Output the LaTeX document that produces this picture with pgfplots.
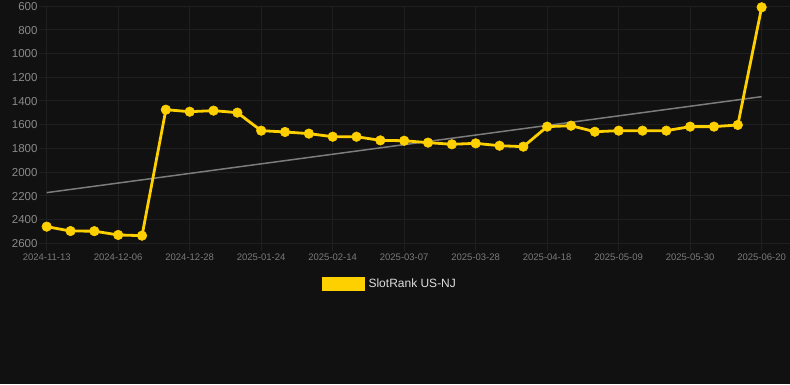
\documentclass[border=0pt]{standalone}
\usepackage{pgfplots}
\pgfplotsset{compat=1.18}
\usepackage{fontspec}
\setmainfont{Liberation Sans}
\definecolor{bg}{HTML}{111111}
\definecolor{gridc}{HTML}{1F1F1F}
\definecolor{gold}{HTML}{FFD000}
\definecolor{trend}{HTML}{7C7C7C}
\definecolor{ytc}{HTML}{8A8A8A}
\definecolor{xtc}{HTML}{7A7A7A}
\definecolor{legc}{HTML}{DDDDDD}
\begin{document}
\begin{tikzpicture}[x=1bp,y=1bp]
\fill[bg] (0,0) rectangle (790,384);
\useasboundingbox (0,0) rectangle (790,384);
\begin{axis}[
  at={(46.7bp,141bp)}, anchor=south west,
  scale only axis, width=743.3bp, height=237bp,
  xmin=0, xmax=31.19, ymin=600, ymax=2600, y dir=reverse,
  clip=false,
  axis line style={draw=none},
  tick pos=left, tick align=outside,
  major tick length=8bp,
  tick style={gridc, line width=0.8bp},
  grid=major, grid style={gridc, line width=0.8bp},
  xtick={0,3,...,30},
  xticklabels={2024-11-13,2024-12-06,2024-12-28,2025-01-24,2025-02-14,2025-03-07,2025-03-28,2025-04-18,2025-05-09,2025-05-30,2025-06-20},
  ytick={600,800,...,2600},
  /pgf/number format/assume math mode=true,
  /pgf/number format/set thousands separator={},
  yticklabel style={font=\fontsize{11.5bp}{12bp}\selectfont, text=ytc, inner sep=1bp, yshift=-0.5bp},
  xticklabel style={font=\fontsize{9.5bp}{10bp}\selectfont, text=xtc, inner sep=1bp, yshift=-2bp},
  legend style={at={(0.4630,-0.173)}, anchor=center, draw=none, fill=none,
    text=legc, font=\fontsize{12bp}{13bp}\selectfont, nodes={inner xsep=3.5bp}},
  legend cell align=left,
]
\addplot[trend, line width=1.5bp, forget plot] coordinates {(0,2175) (30,1365)};
\addplot[gold, line width=2.8bp, mark=*, mark size=4.8bp, mark options={fill=gold, draw=gold, line width=0.5bp},
  legend image code/.code={\fill[gold] (0bp,-5.5bp) rectangle (40bp,5.5bp);}]
coordinates {
(0,2462) (1,2499) (2,2500) (3,2532) (4,2538) (5,1475) (6,1492) (7,1483) (8,1500)
(9,1652) (10,1663) (11,1677) (12,1703) (13,1703) (14,1734) (15,1737) (16,1753)
(17,1767) (18,1759) (19,1779) (20,1787) (21,1618) (22,1610) (23,1661) (24,1652)
(25,1652) (26,1652) (27,1618) (28,1618) (29,1604) (30,611)
};
\addlegendentry{SlotRank US-NJ}
\end{axis}
\end{tikzpicture}
\end{document}
